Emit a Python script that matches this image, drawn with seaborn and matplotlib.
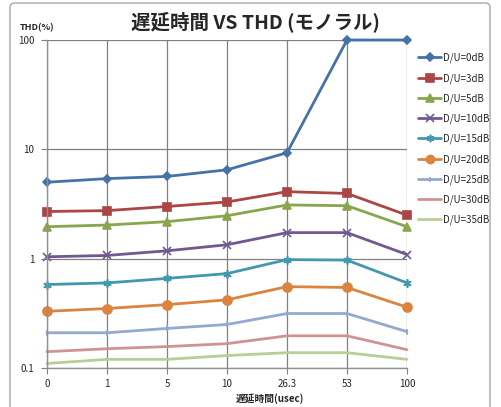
import numpy as np
import pandas as pd
import matplotlib
matplotlib.use("Agg")
import matplotlib.pyplot as plt
import seaborn as sns
from matplotlib.patches import FancyBboxPatch

sns.set_theme(style="white")
plt.rcParams['font.family'] = ['Noto Sans CJK JP', 'DejaVu Sans']

# delay categories (usec)
delays = ['0', '1', '5', '10', '26.3', '53', '100']

# THD (%) per D/U ratio
du_0 = [5.0, 5.4, 5.65, 6.5, 9.3, 100, 100]
du_3 = [2.7, 2.75, 3.0, 3.3, 4.1, 3.95, 2.5]
du_5 = [1.96, 2.03, 2.18, 2.47, 3.1, 3.05, 1.96]
du_10 = [1.04, 1.07, 1.18, 1.34, 1.73, 1.73, 1.09]
du_15 = [0.58, 0.6, 0.66, 0.73, 0.98, 0.97, 0.6]
du_20 = [0.33, 0.35, 0.38, 0.42, 0.555, 0.545, 0.36]
du_25 = [0.21, 0.21, 0.23, 0.25, 0.315, 0.315, 0.215]
du_30 = [0.141, 0.15, 0.157, 0.167, 0.197, 0.197, 0.147]
du_35 = [0.11, 0.12, 0.12, 0.13, 0.138, 0.138, 0.12]

labels = ['D/U=0dB', 'D/U=3dB', 'D/U=5dB', 'D/U=10dB', 'D/U=15dB',
          'D/U=20dB', 'D/U=25dB', 'D/U=30dB', 'D/U=35dB']
series = [du_0, du_3, du_5, du_10, du_15, du_20, du_25, du_30, du_35]

colors = ['#4572A7', '#AA4643', '#89A54E', '#71588F', '#4198AF',
          '#DB843D', '#93A9CF', '#D19392', '#B9CD96']
markers = ['D', 's', '^', 'x', (6, 2, 0), 'o', '|', None, None]
msizes = [4.5, 6, 6, 6, 6, 6.5, 4, 0, 0]

fig = plt.figure(figsize=(5.02, 4.07), dpi=100)
ax = fig.add_axes([47 / 502, 1 - 368 / 407, 360 / 502, 328 / 407])

# chart frame
frame = FancyBboxPatch((10 / 502, -0.02), 480 / 502, 1 - 3 / 407 + 0.02,
                       boxstyle="round,pad=0,rounding_size=0.01",
                       transform=fig.transFigure, fill=False,
                       edgecolor='#A8A8A8', linewidth=1.0, zorder=-1)
fig.patches.append(frame)

x = np.arange(len(delays))
for vals, lab, c, m, ms in zip(series, labels, colors, markers, msizes):
    df = pd.DataFrame({'x': x, 'y': vals})
    sns.lineplot(data=df, x='x', y='y', ax=ax, color=c, linewidth=2.0,
                 marker=m, markersize=ms, markeredgecolor=c,
                 markeredgewidth=1.2, label=lab, clip_on=False)

ax.set_yscale('log')
ax.set_ylim(0.1, 100)
ax.set_xlim(0, len(delays) - 1)
ax.set_yticks([0.1, 1, 10, 100])
ax.set_yticklabels(['0.1', '1', '10', '100'])
ax.yaxis.set_minor_locator(matplotlib.ticker.NullLocator())
ax.set_xticks(x)
ax.set_xticklabels(delays)
ax.tick_params(axis='both', labelsize=7, length=4, width=0.8,
               color='#808080', direction='out', pad=5)
ax.tick_params(axis='x', pad=4)
ax.tick_params(left=True, bottom=True)

ax.grid(True, which='major', color='#808080', linewidth=0.9)
for s in ['top', 'right']:
    ax.spines[s].set_visible(False)
for s in ['left', 'bottom']:
    ax.spines[s].set_color('#909090')
    ax.spines[s].set_linewidth(1.0)

ax.set_xlabel('')
ax.set_ylabel('')
fig.text(255 / 502, 1 - 22 / 407, '遅延時間 VS THD (モノラル)',
         ha='center', va='center', fontsize=14, fontweight='bold')
fig.text(37 / 502, 1 - 28 / 407, 'THD(%)', ha='center', va='center',
         fontsize=6.5, fontweight='bold')
fig.text(270 / 502, 1 - 399 / 407, '遅延時間(usec)', ha='center',
         va='center', fontsize=7, fontweight='bold')

leg = ax.legend(loc='upper left', bbox_to_anchor=(414 / 502, 1 - 49 / 407),
                bbox_transform=fig.transFigure, frameon=False, fontsize=7,
                handlelength=2.4, handletextpad=0.2, labelspacing=1.0,
                borderaxespad=0, markerscale=0.9)

fig.savefig('out.png', dpi=100)
